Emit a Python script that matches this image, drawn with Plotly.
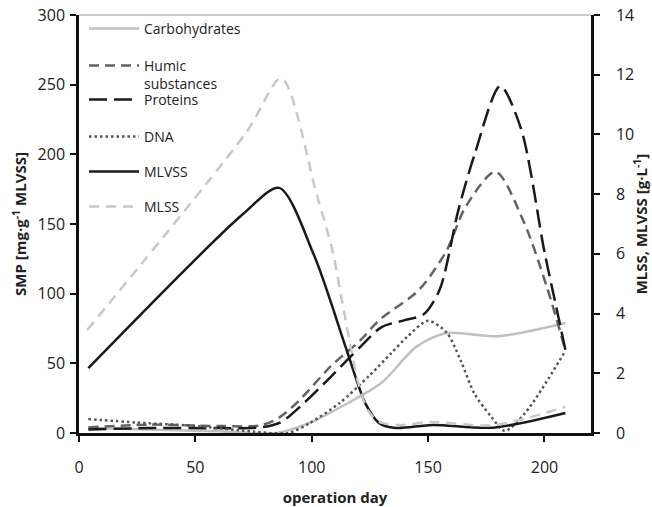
import plotly.graph_objects as go

# ---- data ----
carb_days = [4, 30, 60, 85, 100, 115, 130, 145, 158, 180, 209]
carb_vals = [3.6, 2.5, 1.2, 0.0, 8, 21, 36, 62, 71.7, 69.5, 79]

humic_days = [4, 30, 60, 78, 86, 95, 108, 121, 129, 146, 158, 166, 179, 191, 201, 209]
humic_vals = [4, 6, 5, 5.5, 11, 24, 47.6, 66.7, 81, 102.6, 131, 162, 187.5, 152, 105, 59.6]

prot_days = [4, 30, 60, 78, 87, 97, 108, 121, 130, 140, 148, 155, 163, 170, 181, 190, 200, 205, 209]
prot_vals = [2.6, 3.5, 3.5, 4, 8, 22, 40, 62, 76, 81, 85, 103, 160, 200, 249, 218, 130, 91, 59.6]

dna_days = [4, 25, 50, 75, 90, 99, 112, 125, 134, 141, 150, 158, 164, 170, 177, 183, 192, 209]
dna_vals = [10, 7.5, 5, 1, 0, 7, 21.5, 41.6, 57, 69, 80.5, 72, 52, 28, 12, 1.5, 15, 59]

mlvss_days = [4, 70, 86, 101, 115, 123, 129, 136, 152, 178, 209]
mlvss_vals = [2.17, 7.30, 8.21, 5.95, 2.78, 1.00, 0.33, 0.17, 0.27, 0.18, 0.67]

mlss_days = [3.5, 72, 87, 102, 109, 113, 117, 120, 124, 129, 139, 151, 178, 209]
mlss_vals = [3.45, 10.08, 11.88, 8.03, 6.07, 4.43, 2.78, 1.68, 0.77, 0.37, 0.27, 0.37, 0.26, 0.88]

x_ticks = [0, 50, 100, 150, 200]
left_ticks = [0, 50, 100, 150, 200, 250, 300]
right_ticks = [0, 2, 4, 6, 8, 10, 12, 14]

FONT = "Open Sans"
fig = go.Figure()

def add(days, vals, name, color, dash, yaxis, legend):
    fig.add_trace(go.Scatter(
        x=days, y=vals, name=name, mode="lines", yaxis=yaxis, legend=legend,
        line=dict(color=color, width=2.5, dash=dash, shape="spline", smoothing=0.8),
    ))

add(carb_days, carb_vals, "Carbohydrates", "#c0c0c0", "solid", "y", "legend")
add(humic_days, humic_vals, "Humic<br>substances", "#636363", "10px,6px", "y", "legend2")
add(prot_days, prot_vals, "Proteins", "#1a1a1a", "18px,7px", "y", "legend3")
add(dna_days, dna_vals, "DNA", "#555555", "2.5px,3px", "y", "legend4")
add(mlvss_days, mlvss_vals, "MLVSS", "#1a1a1a", "solid", "y2", "legend5")
add(mlss_days, mlss_vals, "MLSS", "#c8c8c8", "10px,7px", "y2", "legend6")

L, R, T, B = 79, 61, 15, 74
W, H = 652, 507
pw = W - L - R
ph = H - T - B

def px2x(px):
    return (px - L) / pw

def py2y(py):
    return (H - B - py) / ph

leg_common = dict(font=dict(family=FONT, size=14, color="#222"), bgcolor="rgba(0,0,0,0)",
                  itemwidth=50, xanchor="left", yanchor="middle", x=px2x(84))
legend_y = {"legend": 29, "legend2": 64, "legend3": 100, "legend4": 137, "legend5": 172, "legend6": 207}
layout_legends = {}
for k, py in legend_y.items():
    d = dict(leg_common, y=py2y(py))
    if k == "legend2":
        d.update(valign="top", yanchor="top", y=py2y(py - 14))
    layout_legends[k] = d

axis_common = dict(showgrid=False, zeroline=False, automargin=False,
                   showline=True, linecolor="#111", linewidth=2.5,
                   ticks="outside", ticklen=6, tickwidth=1.5, tickcolor="#111",
                   tickfont=dict(family=FONT, size=16, color="#222"))
title_font = dict(family=FONT, size=15, color="#222")

fig.update_layout(
    width=W, height=H,
    margin=dict(l=L, r=R, t=T, b=B, autoexpand=False),
    paper_bgcolor="white", plot_bgcolor="white",
    font=dict(family=FONT, size=16, color="#222"),
    showlegend=True,
    xaxis=dict(range=[0, 220], tickvals=x_ticks, ticklabelstandoff=12,
               title=dict(text="<b>operation day</b>", font=title_font, standoff=35), **axis_common),
    yaxis=dict(range=[0, 300], tickvals=left_ticks, ticklabelstandoff=2,
               title=dict(text="<b>SMP [mg·g<sup>-1</sup> MLVSS]</b>", font=title_font, standoff=8), **axis_common),
    yaxis2=dict(range=[0, 14], tickvals=right_ticks, overlaying="y", side="right", ticklabelstandoff=13,
                title=dict(text="<b>MLSS, MLVSS [g·L<sup>-1</sup>]</b>", font=title_font, standoff=4), **axis_common),
    shapes=[dict(type="line", xref="paper", yref="paper", x0=0, x1=1, y0=1, y1=1,
                 line=dict(color="#999", width=1))],
    **layout_legends,
)

fig.write_html("out.html", config={"displayModeBar": False},
               post_script="document.body.style.margin='0';")
